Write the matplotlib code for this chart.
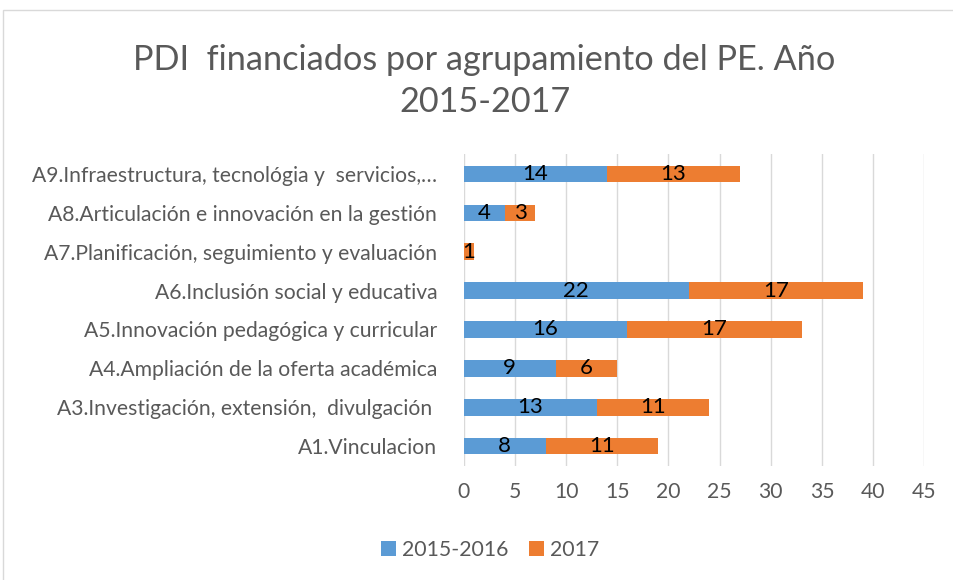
import numpy as np
import matplotlib.pyplot as plt
from matplotlib.patches import Rectangle

categories = [
    "A1.Vinculacion",
    "A3.Investigación, extensión,  divulgación ",
    "A4.Ampliación de la oferta académica",
    "A5.Innovación pedagógica y curricular",
    "A6.Inclusión social y educativa",
    "A7.Planificación, seguimiento y evaluación",
    "A8.Articulación e innovación en la gestión",
    "A9.Infraestructura, tecnológia y  servicios,…",
]
v2015_2016 = [8, 13, 9, 16, 22, 0, 4, 14]
v2017 = [11, 11, 6, 17, 17, 1, 3, 13]

blue = '#5b9bd5'
orange = '#ed7d31'
gray = '#595959'

plt.rcParams['font.family'] = ['Lato', 'DejaVu Sans']

fig = plt.figure(figsize=(9.54, 5.8), dpi=100)
ax = fig.add_axes([0.486, 0.197, 0.483, 0.537])

y = np.arange(len(categories))
a = np.array(v2015_2016)
b = np.array(v2017)
bars1 = ax.barh(y, a, height=0.42, color=blue, label='2015-2016', zorder=3)
bars2 = ax.barh(y, b, left=a, height=0.42, color=orange, label='2017', zorder=3)

for i in range(len(y)):
    if a[i] > 0:
        ax.text(a[i] / 2, y[i], str(a[i]), ha='center', va='center', fontsize=16, color='black', zorder=4)
    if b[i] > 0:
        ax.text(a[i] + b[i] / 2, y[i], str(b[i]), ha='center', va='center', fontsize=16, color='black', zorder=4)

ax.set_xlim(0, 45)
ax.set_ylim(-0.5, len(categories) - 0.5)
ax.set_xticks(np.arange(0, 46, 5))
ax.set_yticks(y)
ax.set_yticklabels(categories)
ax.tick_params(axis='both', length=0, labelsize=15.2, colors=gray)
ax.tick_params(axis='y', pad=19)
ax.tick_params(axis='x', pad=12)
ax.grid(axis='x', color='#d9d9d9', lw=1, zorder=0)
for s in ax.spines.values():
    s.set_visible(False)

fig.suptitle('PDI  financiados por agrupamiento del PE. Año\n2015-2017', x=0.508, y=0.925,
             fontsize=24.7, color=gray, linespacing=1.4)

fig.legend(handles=[bars1, bars2], loc='center', bbox_to_anchor=(0.514, 0.052), ncol=2,
           frameon=False, fontsize=15.3, labelcolor=gray, handlelength=0.7, handleheight=0.7,
           handletextpad=0.3, columnspacing=0.95)

fig.patches.append(Rectangle((3 / 954, -0.01), 1.0, 1 - 10 / 580 + 0.01, transform=fig.transFigure,
                             fill=False, edgecolor='#d9d9d9', lw=1))

fig.savefig('out.png', dpi=100)
